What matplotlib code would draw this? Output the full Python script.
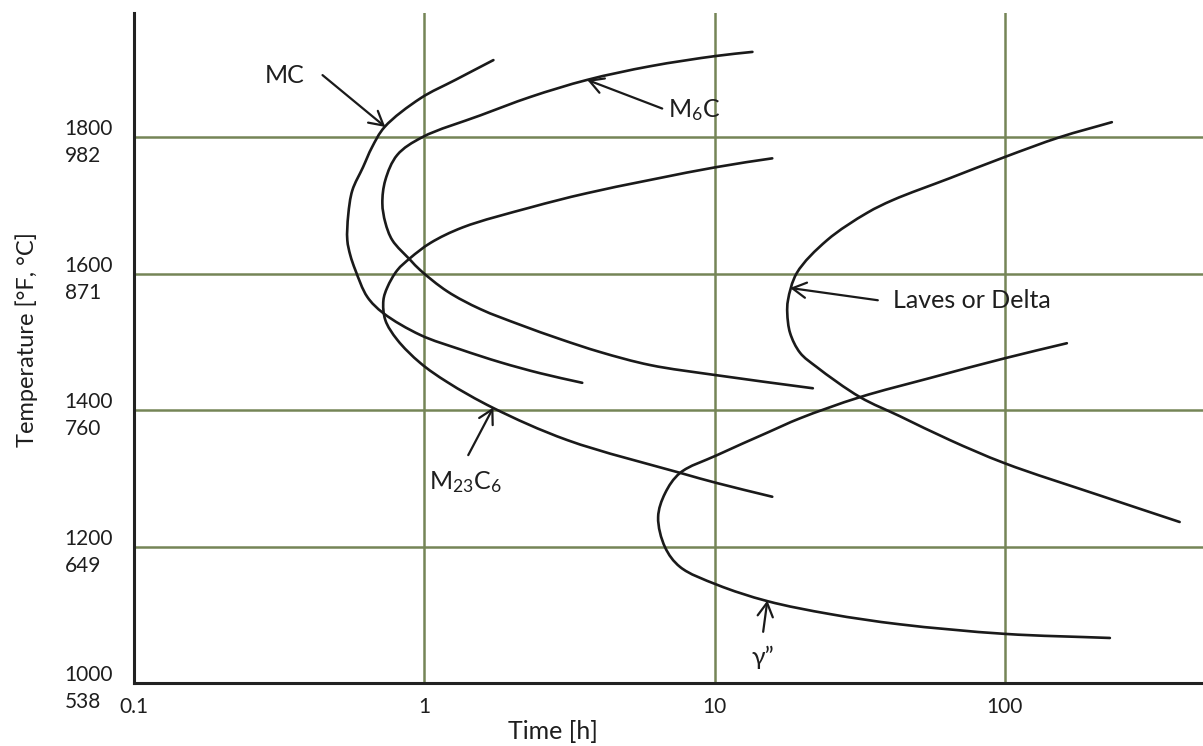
import numpy as np
import matplotlib
matplotlib.use("Agg")
import matplotlib.pyplot as plt
from matplotlib.path import Path
from matplotlib.patches import PathPatch

plt.rcParams["font.family"] = ["Lato", "DejaVu Sans"]
plt.rcParams["mathtext.default"] = "regular"

# ---- precipitation curves: time [h] and temperature [°F] ----
mc_time = [1.73, 1.28, 0.97, 0.73, 0.66, 0.615, 0.565, 0.547, 0.543, 0.556,
           0.579, 0.636, 0.723, 0.97, 1.33, 1.83, 2.51, 3.5]
mc_temp = [1913, 1884, 1857, 1815, 1785, 1756, 1722, 1686, 1649, 1627,
           1605, 1566, 1542, 1510, 1489, 1470, 1454, 1440]

m6c_time = [13.5, 10.1, 6.0, 3.64, 2.32, 1.56, 0.984, 0.807, 0.734, 0.717,
            0.734, 0.776, 0.895, 0.969, 1.20, 1.56, 2.14, 2.94, 4.04, 6.0, 10.2, 21.8]
m6c_temp = [1925, 1919, 1904, 1884, 1859, 1832, 1800, 1774, 1737, 1703,
            1675, 1649, 1620, 1605, 1574, 1548, 1525, 1504, 1485, 1466, 1451, 1432]

m23c6_time = [15.8, 10.1, 3.64, 2.32, 1.36, 1.05, 0.895, 0.807, 0.746, 0.723,
              0.734, 0.807, 0.969, 1.20, 1.73, 3.11, 7.61, 10.2, 15.8]
m23c6_temp = [1769, 1756, 1718, 1697, 1668, 1645, 1623, 1605, 1580, 1561,
              1532, 1503, 1469, 1441, 1403, 1356, 1308, 1293, 1273]

gamma_time = [163.5, 100, 55.2, 31.7, 19.7, 15.2, 10.2, 7.61, 6.75, 6.39,
              6.75, 7.61, 10.2, 15.2, 25.0, 43.5, 100, 230]
gamma_temp = [1498, 1476, 1447, 1419, 1388, 1367, 1334, 1308, 1278, 1243,
              1199, 1170, 1144, 1120, 1101, 1086, 1072, 1066]

laves_time = [233.6, 154.6, 100, 64.7, 41.2, 33.5, 24.4, 19.2, 17.9, 17.8,
              18.2, 19.7, 22.5, 31.7, 43.5, 64.7, 100, 212, 400]
laves_temp = [1822, 1800, 1771, 1740, 1708, 1689, 1649, 1601, 1561, 1542,
              1513, 1484, 1463, 1419, 1391, 1356, 1322, 1275, 1236]

# axis ticks
x_ticks = [0.1, 1, 10, 100]
x_tick_labels = ["0.1", "1", "10", "100"]
y_ticks = [1000, 1200, 1400, 1600, 1800]
y_tick_labels = ["1000\n538", "1200\n649", "1400\n760", "1600\n871", "1800\n982"]

INK = "#1a1a1a"
TEXT = "#1e1e1e"
GRID = "#758557"

# drawn length of one decade of time vs. one °F, so the spline works in even units
X_SCALE = 290.5
Y_SCALE = 136.5 / 200.0


def smooth_path(t, temp, alpha=0.5):
    """Centripetal Catmull-Rom curve through the points, as cubic Bezier segments."""
    pts = np.column_stack([np.log10(t) * X_SCALE, np.asarray(temp, float) * Y_SCALE])
    ext = np.vstack([2 * pts[0] - pts[1], pts, 2 * pts[-1] - pts[-2]])
    d = np.linalg.norm(np.diff(ext, axis=0), axis=1) ** alpha
    d[d == 0] = 1e-6
    verts = [pts[0]]
    codes = [Path.MOVETO]
    for i in range(1, len(ext) - 2):
        p0, p1, p2, p3 = ext[i - 1], ext[i], ext[i + 1], ext[i + 2]
        d0, d1, d2 = d[i - 1], d[i], d[i + 1]
        m1 = d1 * ((p1 - p0) / d0 - (p2 - p0) / (d0 + d1) + (p2 - p1) / d1)
        m2 = d1 * ((p2 - p1) / d1 - (p3 - p1) / (d1 + d2) + (p3 - p2) / d2)
        verts += [p1 + m1 / 3.0, p2 - m2 / 3.0, p2]
        codes += [Path.CURVE4] * 3
    verts = np.array(verts)
    verts[:, 0] = 10 ** (verts[:, 0] / X_SCALE)
    verts[:, 1] = verts[:, 1] / Y_SCALE
    return Path(verts, codes)


fig = plt.figure(figsize=(12.03, 7.46), dpi=100)
ax = fig.add_axes([0.1114, 0.08445, 0.8886, 0.8981])

ax.set_xscale("log")
for t, temp in [(mc_time, mc_temp), (m6c_time, m6c_temp), (m23c6_time, m23c6_temp),
                (gamma_time, gamma_temp), (laves_time, laves_temp)]:
    ax.add_patch(PathPatch(smooth_path(t, temp), fill=False, edgecolor=INK,
                           lw=1.9, capstyle="round", zorder=3))

ax.set_xlim(0.1, 481.4)
ax.set_ylim(1000, 1982)

ax.set_xticks(x_ticks, labels=x_tick_labels)
ax.xaxis.set_minor_locator(matplotlib.ticker.NullLocator())
ax.set_yticks(y_ticks, labels=y_tick_labels)
ax.tick_params(axis="both", length=0, labelsize=15, labelcolor=TEXT)
ax.tick_params(axis="x", pad=10)
ax.tick_params(axis="y", pad=50)
for lbl in ax.get_yticklabels():
    lbl.set_horizontalalignment("left")
    lbl.set_multialignment("left")
    lbl.set_linespacing(1.45)

ax.grid(True, color=GRID, lw=1.8)
ax.set_axisbelow(True)

for side in ("top", "right"):
    ax.spines[side].set_visible(False)
for side in ("left", "bottom"):
    ax.spines[side].set_linewidth(2.2)
    ax.spines[side].set_color("#222222")

ax.set_xlabel("Time [h]", fontsize=18, color=TEXT)
ax.xaxis.set_label_coords(0.392, -0.055)
ax.set_ylabel("Temperature [°F, °C]", fontsize=17, color=TEXT)
ax.yaxis.set_label_coords(-0.090, 0.512)

# labels with pointer arrows
arrow = dict(arrowstyle="->,head_length=0.45,head_width=0.25", lw=1.6,
             color=INK, shrinkA=0, shrinkB=0, mutation_scale=22)
label_kw = dict(fontsize=18, color=TEXT, va="center")

ax.annotate("", xy=(0.734, 1815), xytext=(0.446, 1891), arrowprops=arrow)
ax.text(0.330, 1891, "MC", ha="center", **label_kw)

ax.annotate("", xy=(3.64, 1884), xytext=(6.6, 1842), arrowprops=arrow)
ax.text(6.92, 1840, "M$_6$C", ha="left", **label_kw)

ax.annotate("", xy=(18.2, 1579), xytext=(36.5, 1561), arrowprops=arrow)
ax.text(41.2, 1560, "Laves or Delta", ha="left", **label_kw)

ax.annotate("", xy=(1.73, 1404), xytext=(1.417, 1334), arrowprops=arrow)
ax.text(1.384, 1294, "M$_{23}$C$_6$", ha="center", **label_kw)

ax.annotate("", xy=(15.2, 1121), xytext=(14.7, 1075), arrowprops=arrow)
ax.text(14.7, 1037, "γ”", ha="center", **label_kw)

fig.savefig("out.png", dpi=100)
